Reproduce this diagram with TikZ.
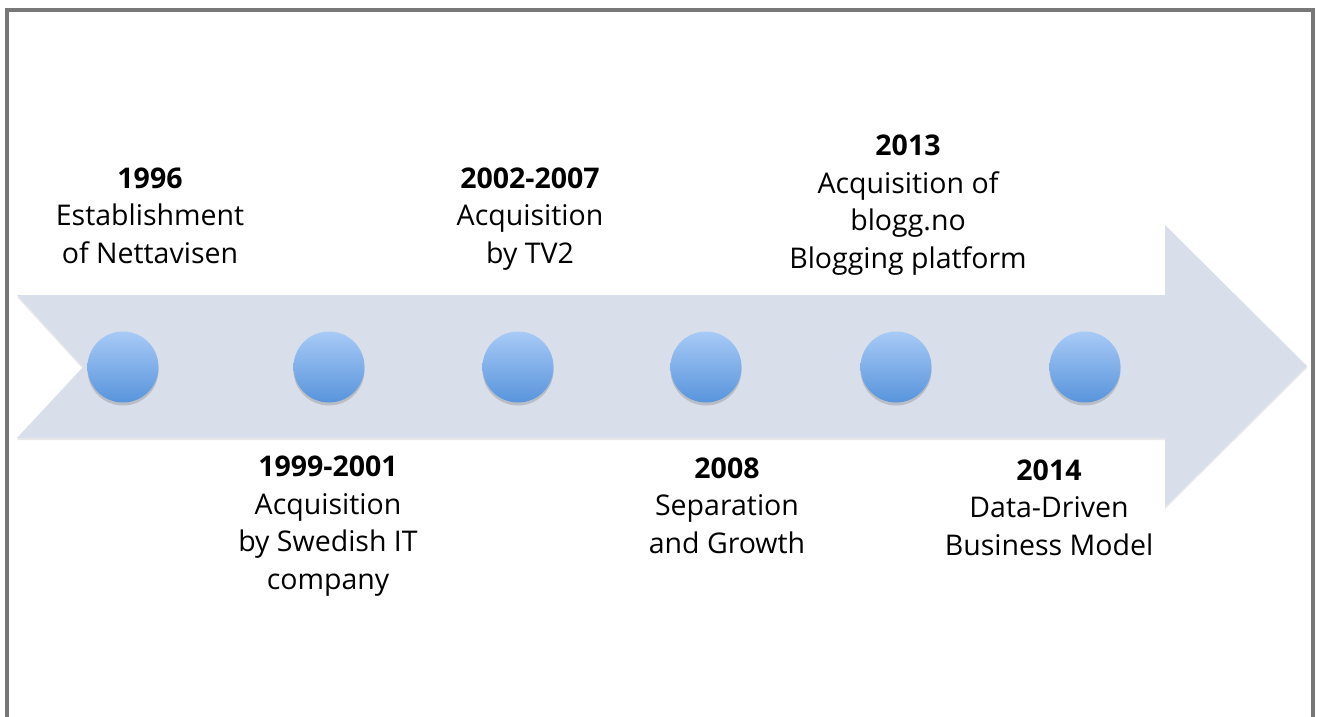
\documentclass[tikz,border=0pt]{standalone}
\usepackage{fontspec}
\setmainfont{Open Sans}
\usepackage{tikz}
\usetikzlibrary{shadows}
\definecolor{bandfill}{RGB}{216,223,235}
\definecolor{dottop}{RGB}{168,202,246}
\definecolor{dotbot}{RGB}{88,148,220}
\definecolor{framegray}{RGB}{120,120,120}
\tikzset{
  band/.style={fill=bandfill, draw=none,
    drop shadow={opacity=0.18, shadow xshift=0pt, shadow yshift=-2pt}},
  dot/.style={circle, minimum size=71pt, inner sep=0pt,
    top color=dottop, bottom color=dotbot, draw=none,
    drop shadow={opacity=0.35, shadow xshift=0pt, shadow yshift=-3pt}},
  % base of a multi-line node sits on its last line
  event/.style={align=center, anchor=base, inner sep=0pt,
    font=\fontsize{28.5}{37.5}\selectfont},
}
\newcommand{\yr}[1]{\textbf{#1}}

\begin{document}
\begin{tikzpicture}[x=1pt, y=-1pt]
    \useasboundingbox (0,0) rectangle (1317,717);
    \fill[white] (0,0) rectangle (1317,717);
    \draw[framegray, line width=4pt] (7,717) -- (7,10) -- (1313,10) -- (1313,717);

    % the timeline arrow
    \path[band] (17,295) -- (1165,295) -- (1165,225) -- (1307,366)
        -- (1165,507) -- (1165,438) -- (17,438) -- (83,367) -- cycle;

    \node[dot] (D1) at (123,367) {};
    \node[dot] (D2) at (329,367) {};
    \node[dot] (D3) at (518,367) {};
    \node[dot] (D4) at (706,367) {};
    \node[dot] (D5) at (896,367) {};
    \node[dot] (D6) at (1085,367) {};

    \node[event] (E1) at (150,263) {\yr{1996}\\Establishment\\of Nettavisen};
    \node[event] (E2) at (328,589) {\yr{1999-2001}\\Acquisition\\by Swedish IT\\company};
    \node[event] (E3) at (530,263) {\yr{2002-2007}\\Acquisition\\by TV2};
    \node[event] (E4) at (727,553) {\yr{2008}\\Separation\\and Growth};
    \node[event] (E5) at (908,268) {\yr{2013}\\Acquisition of\\blogg.no\\Blogging platform};
    \node[event] (E6) at (1049,555) {\yr{2014}\\Data-Driven\\Business Model};
\end{tikzpicture}
\end{document}
